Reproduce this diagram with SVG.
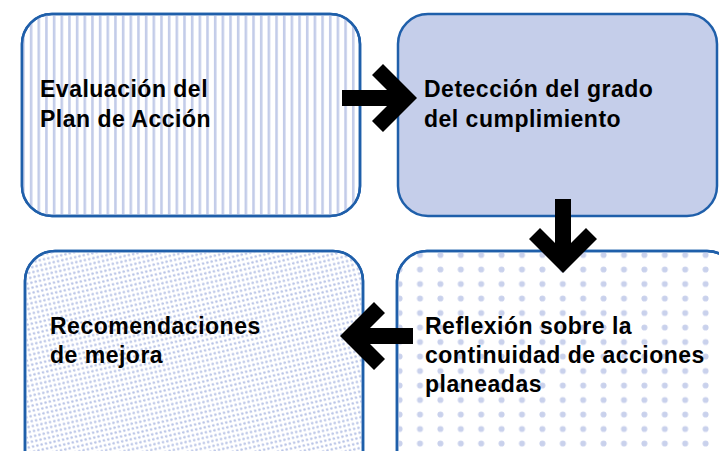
<svg xmlns="http://www.w3.org/2000/svg" width="719" height="451" viewBox="0 0 719 451">
<style>
.box{stroke:#1F5FAA;stroke-width:2.5}
.lbl{font-family:"Liberation Sans",Arial,sans-serif;font-weight:bold;font-size:23px;letter-spacing:0.5px;fill:#000}
.arr{fill:#000}
</style>
<defs>
<pattern id="vstripe" patternUnits="userSpaceOnUse" x="29.8" y="0" width="7.67" height="10">
<rect x="0" y="0" width="2.6" height="10" fill="#C3CCE9"/>
</pattern>
<pattern id="finedots" patternUnits="userSpaceOnUse" width="4.4" height="5" patternTransform="rotate(-13)">
<circle cx="2.2" cy="2.5" r="1.25" fill="#B8C3E6"/>
</pattern>
<pattern id="bigdots" patternUnits="userSpaceOnUse" x="409.8" y="247.75" width="20.4" height="14.5">
<circle cx="10.2" cy="7.25" r="3" fill="#C9D1EC"/>
</pattern>
</defs>
<rect width="719" height="451" fill="#fff"/>
<g id="node-evaluacion">
<rect class="box" x="22" y="14" width="338" height="202" rx="30" fill="#fff"/>
<rect x="22" y="14" width="338" height="202" rx="30" fill="url(#vstripe)"/>
<rect class="box" x="22" y="14" width="338" height="202" rx="30" fill="none"/>
<text class="lbl" x="40" y="97">Evaluación del</text>
<text class="lbl" x="40" y="126.5">Plan de Acción</text>
</g>
<g id="node-deteccion">
<rect class="box" x="398" y="14" width="319" height="202" rx="30" fill="#C5CEEA"/>
<text class="lbl" x="424" y="97">Detección del grado</text>
<text class="lbl" x="424" y="126.5">del cumplimiento</text>
</g>
<g id="node-reflexion">
<rect class="box" x="397" y="251" width="340" height="230" rx="30" fill="#fff"/>
<rect x="397" y="251" width="340" height="230" rx="30" fill="url(#bigdots)"/>
<rect class="box" x="397" y="251" width="340" height="230" rx="30" fill="none"/>
<text class="lbl" x="425" y="334">Reflexión sobre la</text>
<text class="lbl" x="425" y="363">continuidad de acciones</text>
<text class="lbl" x="425" y="392">planeadas</text>
</g>
<g id="node-recomendaciones">
<rect class="box" x="25" y="251" width="338" height="230" rx="30" fill="#fff"/>
<rect x="25" y="251" width="338" height="230" rx="30" fill="url(#finedots)"/>
<rect class="box" x="25" y="251" width="338" height="230" rx="30" fill="none"/>
<text class="lbl" x="50" y="334">Recomendaciones</text>
<text class="lbl" x="50" y="363">de mejora</text>
</g>
<g id="connectors">
<g id="arrow-1-2">
<rect class="arr" x="342" y="90" width="55" height="16"/>
<polygon class="arr" points="383,64 417,98 383,132 372,121 395,98 372,75"/>
</g>
<g id="arrow-2-3">
<rect class="arr" x="555" y="199" width="16" height="54"/>
<polygon class="arr" points="529,239 563,273 597,239 586,228 563,251 540,228"/>
</g>
<g id="arrow-3-4">
<rect class="arr" x="360" y="328" width="53" height="16"/>
<polygon class="arr" points="374,302 340,336 374,370 385,359 362,336 385,313"/>
</g>
</g>
</svg>
